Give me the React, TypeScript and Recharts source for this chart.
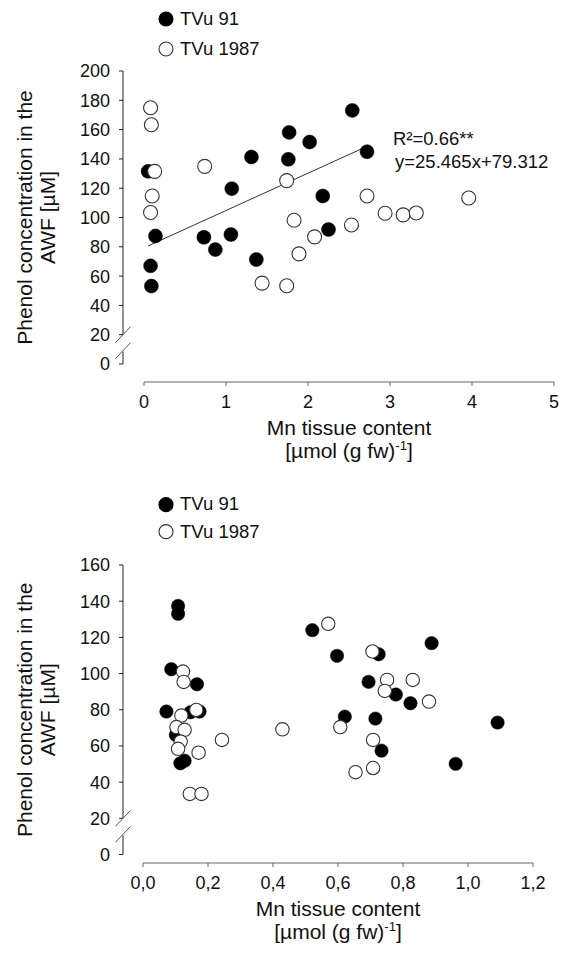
import { ScatterChart, Scatter, XAxis, YAxis, ReferenceLine, Legend, Customized } from 'recharts'

const FONT = '"Liberation Sans", Arial, Helvetica, sans-serif'

const seriesNames = ['TVu 91', 'TVu 1987']

// upper panel
const tvu91MnA = [0.05, 0.14, 0.08, 0.09, 0.73, 0.87, 1.06, 1.07, 1.31, 1.37, 1.77, 1.76, 2.02, 2.18, 2.25, 2.54, 2.72]
const tvu91PhenolA = [131.5, 87.4, 67.0, 53.2, 86.5, 78.1, 88.4, 119.7, 141.3, 71.3, 158.1, 139.7, 151.5, 114.7, 91.8, 173.1, 144.9]
const tvu1987MnA = [0.08, 0.09, 0.13, 0.1, 0.08, 0.74, 1.74, 1.83, 2.08, 1.89, 1.44, 1.74, 2.72, 2.53, 2.94, 3.16, 3.32, 3.96]
const tvu1987PhenolA = [174.9, 163.3, 131.5, 114.7, 103.4, 134.9, 125.2, 98.1, 86.8, 75.2, 55.2, 53.4, 114.7, 94.9, 102.9, 101.8, 103.1, 113.3]
const mnTicksA = [0, 1, 2, 3, 4, 5]
const phenolTicksA = [0, 20, 40, 60, 80, 100, 120, 140, 160, 180, 200]

// linear fit for TVu 91, upper panel
const fitSlope = 25.465
const fitIntercept = 79.312
const fitR2 = '0.66**'

// lower panel
const tvu91MnB = [0.108, 0.108, 0.087, 0.166, 0.072, 0.146, 0.174, 0.101, 0.115, 0.128, 0.521, 0.597, 0.621, 0.725, 0.888, 0.694, 0.778, 0.823, 0.715, 0.734, 1.091, 0.962]
const tvu91PhenolB = [137.4, 133.0, 102.4, 94.1, 79.0, 78.6, 79.0, 66.1, 50.4, 51.8, 124.0, 109.8, 76.2, 110.7, 116.8, 95.4, 88.4, 83.6, 75.1, 57.4, 72.9, 50.1]
const tvu1987MnB = [0.123, 0.125, 0.164, 0.118, 0.103, 0.128, 0.116, 0.108, 0.171, 0.243, 0.429, 0.144, 0.18, 0.57, 0.607, 0.706, 0.751, 0.83, 0.744, 0.88, 0.708, 0.654, 0.708]
const tvu1987PhenolB = [101.1, 95.4, 79.9, 76.8, 70.4, 68.9, 62.4, 58.4, 56.3, 63.3, 69.2, 33.5, 33.5, 127.5, 70.4, 112.2, 96.5, 96.5, 90.4, 84.5, 63.3, 45.5, 47.8]
const mnTicksB = [0, 0.2, 0.4, 0.6, 0.8, 1.0, 1.2]
const phenolTicksB = [0, 20, 40, 60, 80, 100, 120, 140, 160]

const BREAK_AT = 20
const TICK_SIZE = 4
const TICK_GAP = 9

const zip = (xs: number[], ys: number[]) => xs.map((mn, i) => ({ mn, phenol: ys[i] }))

// y tick label, with the axis-break slashes drawn at the break value
function YTick(props: any) {
  const { x, y, payload } = props
  const axisX = x + TICK_SIZE + TICK_GAP
  return (
    <g>
      {payload.value === BREAK_AT && (
        <g stroke="#555" strokeWidth={1}>
          <line x1={axisX - 7.5} y1={y + 8} x2={axisX + 7.5} y2={y - 8} />
          <line x1={axisX - 7.5} y1={y + 24} x2={axisX + 7.5} y2={y + 8} />
        </g>
      )}
      <text x={x} y={y} dy="0.36em" textAnchor="end" fontSize={18} fontFamily={FONT} fill="#111">
        {payload.value}
      </text>
    </g>
  )
}

function Dot(r: number, filled: boolean) {
  return (p: any) => (
    <circle cx={p.cx} cy={p.cy} r={r} fill={filled ? '#000' : '#fff'} stroke={filled ? '#000' : '#333'} strokeWidth={filled ? 0.5 : 1.1} />
  )
}

function makeLegend(rowH: number) {
  return () => (
    <div style={{ fontFamily: FONT, fontSize: 18.5, color: '#111' }}>
      {seriesNames.map((name, i) => (
        <div key={name} style={{ height: rowH, display: 'flex', alignItems: 'center' }}>
          <svg width={22} height={rowH}>
            <circle cx={8} cy={rowH / 2} r={7} fill={i === 0 ? '#000' : '#fff'} stroke={i === 0 ? '#000' : '#333'} strokeWidth={1.1} />
          </svg>
          <span style={{ lineHeight: 1 }}>{name}</span>
        </div>
      ))}
    </div>
  )
}

interface PanelProps {
  top: number
  height: number
  margin: { top: number; right: number; left: number; bottom: number }
  xAxisHeight: number
  xPad: number
  yPad: number
  xMax: number
  yMax: number
  xTicks: number[]
  yTicks: number[]
  fmt: (v: number) => string
  filled: { mn: number; phenol: number }[]
  open: { mn: number; phenol: number }[]
  r: number
  legendTop: number
  legendRow: number
  children?: any
}

function Panel(p: PanelProps) {
  const plotH = p.height - p.margin.top - p.xAxisHeight
  const pxPerUnit = (plotH - p.yPad) / p.yMax
  const upper = (p.yMax - BREAK_AT) * pxPerUnit
  const lower = BREAK_AT * pxPerUnit - 17
  return (
    <div style={{ position: 'absolute', left: 0, top: p.top }}>
      <ScatterChart width={567} height={p.height} margin={p.margin}>
        <XAxis
          type="number"
          dataKey="mn"
          domain={[0, p.xMax]}
          ticks={p.xTicks}
          tickFormatter={p.fmt}
          padding={{ left: p.xPad, right: 0 }}
          height={p.xAxisHeight}
          axisLine={{ stroke: '#666', strokeDasharray: `0 ${p.xPad} 2000` }}
          tickLine={{ stroke: '#666' }}
          tickSize={TICK_SIZE}
          tickMargin={9}
          tick={{ fontSize: 18, fill: '#111', fontFamily: FONT }}
          label={{
            content: ({ viewBox }: any) => {
              const cx = viewBox.x + p.xPad + (viewBox.width - p.xPad) / 2
              return (
                <text x={cx} y={viewBox.y + 53} textAnchor="middle" fontSize={21} fontFamily={FONT} fill="#111">
                  <tspan x={cx}>Mn tissue content</tspan>
                  <tspan x={cx} dy={22.5}>[µmol (g fw)<tspan dy={-8} fontSize={13}>-1</tspan><tspan dy={8}>]</tspan></tspan>
                </text>
              )
            },
          }}
        />
        <YAxis
          type="number"
          dataKey="phenol"
          domain={[0, p.yMax]}
          ticks={p.yTicks}
          width={123}
          padding={{ top: 0, bottom: p.yPad }}
          axisLine={{ stroke: '#222', strokeDasharray: `${upper} 17 ${lower} 2000` }}
          tickLine={{ stroke: '#222' }}
          tickSize={TICK_SIZE}
          tickMargin={TICK_GAP}
          tick={<YTick />}
          label={{
            content: ({ viewBox }: any) => {
              const cy = viewBox.y + (viewBox.height - p.yPad) / 2
              return (
                <text x={32} y={cy} transform={`rotate(-90 32 ${cy})`} textAnchor="middle" fontSize={21} fontFamily={FONT} fill="#111">
                  <tspan x={32}>Phenol concentration in the</tspan>
                  <tspan x={32} dy={23}>AWF [µM]</tspan>
                </text>
              )
            },
          }}
        />
        <Legend
          layout="vertical"
          align="center"
          verticalAlign="middle"
          wrapperStyle={{ top: p.legendTop, left: 158, width: 200 }}
          content={makeLegend(p.legendRow)}
        />
        <Scatter name={seriesNames[0]} data={p.filled} fill="#000" shape={Dot(p.r, true)} isAnimationActive={false} />
        <Scatter name={seriesNames[1]} data={p.open} fill="#fff" shape={Dot(p.r, false)} isAnimationActive={false} />
        {p.children}
      </ScatterChart>
    </div>
  )
}

const fitFrom = Math.min(...tvu91MnA)
const fitTo = Math.max(...tvu91MnA)

const FitNote = () => (
  <g fontFamily={FONT} fontSize={18.5} fill="#111">
    <text x={393} y={145}>{`R²=${fitR2}`}</text>
    <text x={395} y={167.5}>{`y=${fitSlope}x+${fitIntercept}`}</text>
  </g>
)

export default function App() {
  const comma = (v: number) => v.toFixed(1).replace('.', ',')
  return (
    <div style={{ position: 'absolute', left: 0, top: 0, width: 567, height: 954, background: '#fff' }}>
      <Panel
        top={0}
        height={470}
        margin={{ top: 71, right: 13, left: 0, bottom: 0 }}
        xAxisHeight={88}
        xPad={21}
        yPad={18}
        xMax={5}
        yMax={200}
        xTicks={mnTicksA}
        yTicks={phenolTicksA}
        fmt={(v) => String(v)}
        filled={zip(tvu91MnA, tvu91PhenolA)}
        open={zip(tvu1987MnA, tvu1987PhenolA)}
        r={7}
        legendTop={4}
        legendRow={30}
      >
        <ReferenceLine
          segment={[
            { x: fitFrom, y: fitSlope * fitFrom + fitIntercept },
            { x: fitTo, y: fitSlope * fitTo + fitIntercept },
          ]}
          stroke="#333"
          strokeWidth={1}
          ifOverflow="visible"
        />
        <Customized component={FitNote} />
      </Panel>
      <Panel
        top={470}
        height={484}
        margin={{ top: 95, right: 34, left: 0, bottom: 0 }}
        xAxisHeight={91}
        xPad={20}
        yPad={8.5}
        xMax={1.2}
        yMax={160}
        xTicks={mnTicksB}
        yTicks={phenolTicksB}
        fmt={comma}
        filled={zip(tvu91MnB, tvu91PhenolB)}
        open={zip(tvu1987MnB, tvu1987PhenolB)}
        r={6.7}
        legendTop={21}
        legendRow={27.3}
      />
    </div>
  )
}
